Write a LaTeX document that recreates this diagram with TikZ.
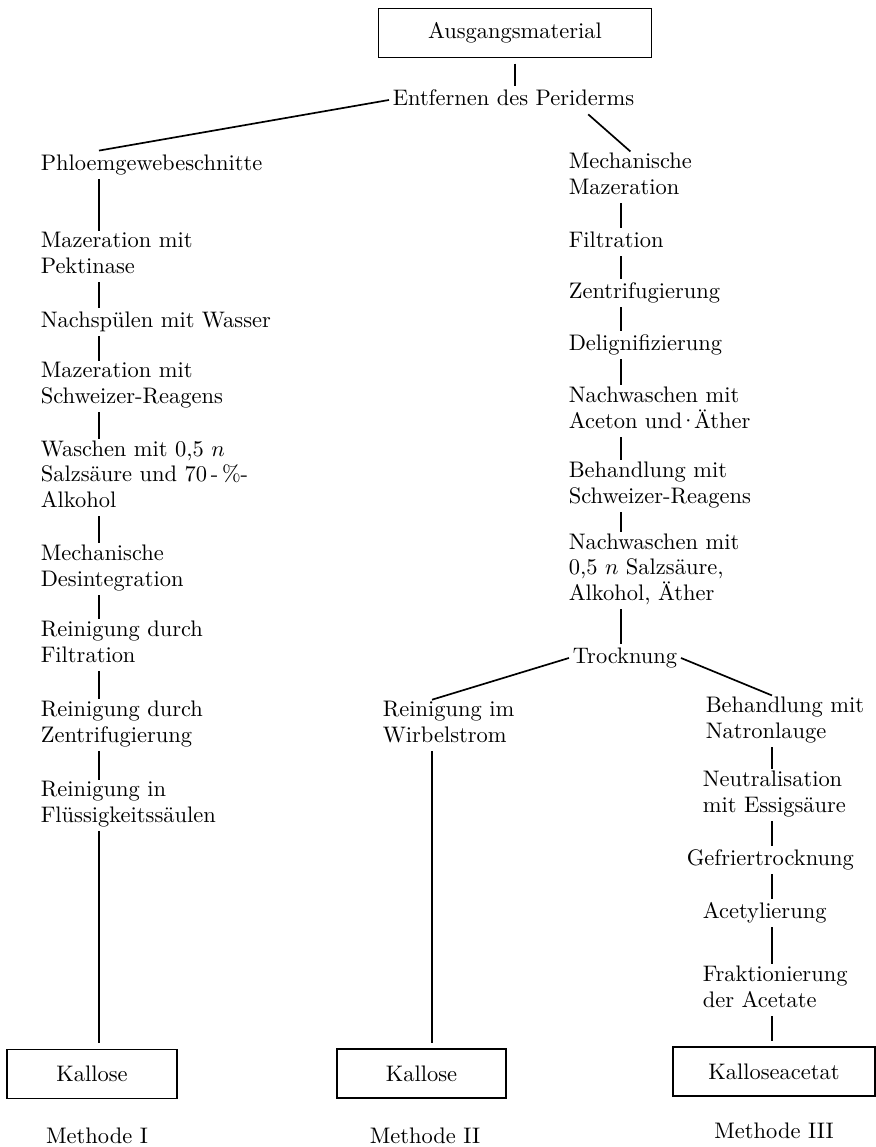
\documentclass[tikz,border=0pt]{standalone}
\usepackage{tikz}
\usetikzlibrary{calc}

\begin{document}
\begin{tikzpicture}[x=0.445pt,y=-0.445pt,
  txt/.style={anchor=base west,align=left,inner xsep=1.5pt,inner ysep=0.6pt,font=\fontsize{10}{11.2}\selectfont,execute at begin node=\strut,execute at end node=\strut},
  resbox/.style={draw,line width=0.8pt,minimum height=21.8pt,outer sep=2.7pt,font=\fontsize{10}{11.2}\selectfont},
  label/.style={anchor=base,font=\fontsize{10}{11.2}\selectfont},
  link/.style={line width=0.75pt}]
\useasboundingbox (0,0) rectangle (876,1147);
% stem columns (nodes sit on the baseline of their last line)
\coordinate (sL) at (99,0);
\coordinate (sA) at (621,0);
\coordinate (sM) at (432,0);
\coordinate (sB) at (772,0);
% start
\node[resbox,minimum width=121.5pt] (top) at (515,33) {Ausgangsmaterial};
\node[txt] (R0) at (389,105) {Entfernen des Periderms};
% Methode I
\node[txt] (L1) at (37,170) {Phloemgewebeschnitte};
\node[txt] (L2) at (37,273) {Mazeration mit\\Pektinase};
\node[txt] (L3) at (37,327) {Nachspülen mit Wasser};
\node[txt] (L4) at (37,403) {Mazeration mit\\Schweizer-Reagens};
\node[txt] (L5) at (37,507) {Waschen mit 0,5 $n$\\Salzsäure und 70\,-\,\%-\\Alkohol};
\node[txt] (L6) at (37,586) {Mechanische\\Desintegration};
\node[txt] (L7) at (37,662) {Reinigung durch\\Filtration};
\node[txt] (L8) at (37,742) {Reinigung durch\\Zentrifugierung};
\node[txt] (L9) at (37,822) {Reinigung in\\Flüssigkeitssäulen};
\node[resbox,minimum width=75.7pt] (K1) at (92,1074) {Kallose};
% common part II/III
\node[txt] (R1) at (565,194) {Mechanische\\Mazeration};
\node[txt] (R2) at (565,247) {Filtration};
\node[txt] (R3) at (565,298) {Zentrifugierung};
\node[txt] (R4) at (565,350) {Delignifizierung};
\node[txt] (R5) at (565,428) {Nachwaschen mit\\Aceton und\kern-1.3pt·\kern-1.3ptÄther};
\node[txt] (R6) at (565,503) {Behandlung mit\\Schweizer-Reagens};
\node[txt] (R7) at (565,600) {Nachwaschen mit\\0,5 $n$ Salzsäure,\\Alkohol, Äther};
\node[txt] (T) at (569,663) {Trocknung};
% Methode II
\node[txt] (M1) at (379,742) {Reinigung im\\Wirbelstrom};
\node[resbox,minimum width=75.2pt] (K2) at (421.5,1073.5) {Kallose};
% Methode III
\node[txt] (B1) at (702,738) {Behandlung mit\\Natronlauge};
\node[txt] (B2) at (699,812) {Neutralisation\\mit Essigsäure};
\node[txt] (B3) at (683,865) {Gefriertrocknung};
\node[txt] (B4) at (699,918) {Acetylierung};
\node[txt] (B5) at (699,1007) {Fraktionierung\\der Acetate};
\node[resbox,minimum width=89.9pt] (K3) at (774,1071.5) {Kalloseacetat};
% labels
\node[label] (meth1) at (97,1143) {Methode I};
\node[label] (meth2) at (425,1143) {Methode II};
\node[label] (meth3) at (774,1138) {Methode III};
% connectors
\draw[link] (top.south) -- (top.south |- R0.north);
\draw[link] (R0.west) -- (L1.north -| sL);
\draw[link] ($(R0.south west)!0.8!(R0.south east)$) -- (R1.north);
\foreach \a/\b in {L1/L2,L2/L3,L3/L4,L4/L5,L5/L6,L6/L7,L7/L8,L8/L9,L9/K1}
  \draw[link] (\a.south -| sL) -- (\b.north -| sL);
\foreach \a/\b in {R1/R2,R2/R3,R3/R4,R4/R5,R5/R6,R6/R7,R7/T}
  \draw[link] (\a.south -| sA) -- (\b.north -| sA);
\draw[link] (T.west) -- (M1.north -| sM);
\draw[link] (T.east) -- (B1.north -| sB);
\draw[link] (M1.south -| sM) -- (K2.north -| sM);
\foreach \a/\b in {B1/B2,B2/B3,B3/B4,B4/B5,B5/K3}
  \draw[link] (\a.south -| sB) -- (\b.north -| sB);
\end{tikzpicture}
\end{document}
